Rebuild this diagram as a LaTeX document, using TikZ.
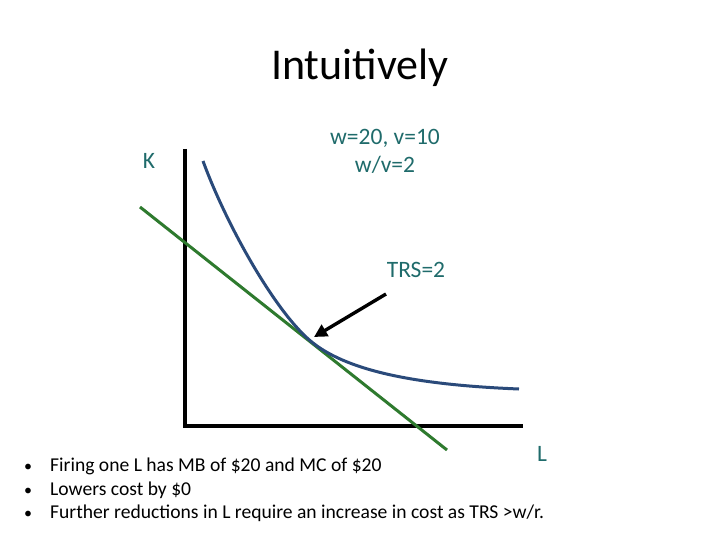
\documentclass[tikz,border=0pt]{standalone}
\usepackage{fontspec}
\setmainfont{Carlito}
\usetikzlibrary{arrows.meta}
\definecolor{teal1}{HTML}{1F6B6B}
\definecolor{curveblue}{HTML}{2A4A7A}
\definecolor{lgreen}{HTML}{2E7A2E}
\tikzset{
  lbl/.style={text=teal1, font=\fontsize{23.5}{28}\selectfont, inner sep=0pt},
  bul/.style={text=black, font=\fontsize{19.6}{23}\selectfont, anchor=west, inner sep=0pt},
  axis/.style={line width=4pt, black},
}
\newcommand{\bmark}{\makebox[26pt][l]{{\fontsize{16}{16}\selectfont •}}}
\begin{document}
\begin{tikzpicture}[x=1pt,y=-1pt]
\useasboundingbox (0,0) rectangle (720,540);
\node[font=\fontsize{44}{50}\selectfont, inner sep=0pt] (title) at (360,68) {Intuitively};
\coordinate (ytop) at (185,149);
\coordinate (orig) at (185,426);
\coordinate (xend) at (523,426);
\draw[axis] (ytop) -- (orig) -- (xend);
\coordinate (g1) at (140,207);
\coordinate (g2) at (447,450);
\draw[lgreen, line width=3pt] (g1) -- (g2);
\coordinate (c0) at (203,161);
\coordinate (ct) at (313,343);
\coordinate (c3) at (519,389);
\draw[curveblue, line width=3pt] (c0) .. controls (226,224) and (276,314) .. (ct)
   .. controls (350,372) and (420,385) .. (c3);
\coordinate (as) at (386,294);
\coordinate (ae) at (314,337);
\draw[line width=3.4pt, -{Triangle[length=13pt,width=13pt]}] (as) -- (ae);
\node[lbl] (K) at (149,161) {K};
\node[lbl] (wv1) at (385,138) {w=20, v=10};
\node[lbl] (wv2) at (385,165) {w/v=2};
\node[lbl] (trs) at (416,270) {TRS=2};
\node[lbl] (L) at (542,454) {L};
\node[bul] (b1) at (24,466) {\bmark Firing one L has MB of \$20 and MC of \$20};
\node[bul] (b2) at (24,490) {\bmark Lowers cost by \$0};
\node[bul] (b3) at (24,513) {\bmark Further reductions in L require an increase in cost as TRS >w/r.};
\end{tikzpicture}
\end{document}
